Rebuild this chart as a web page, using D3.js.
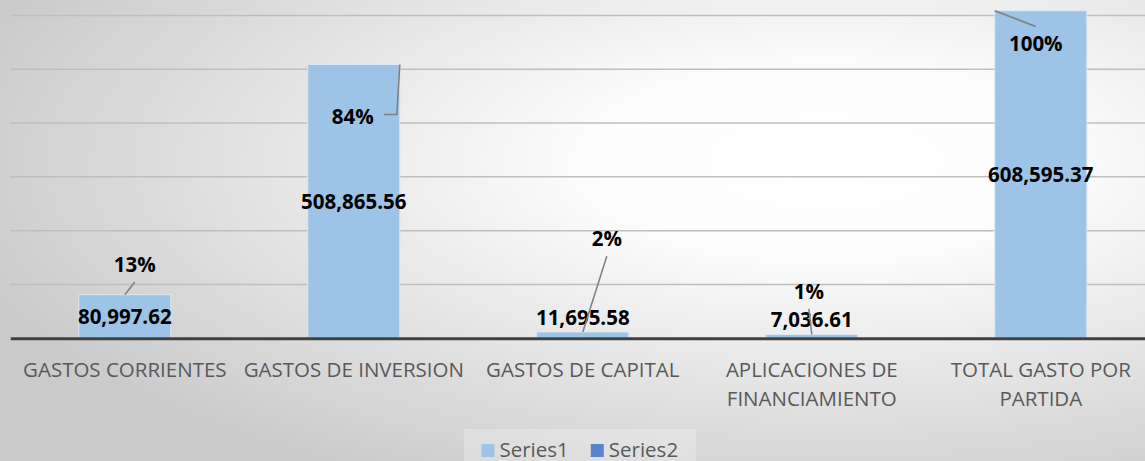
<!DOCTYPE html>
<html>
<head>
<meta charset="utf-8">
<script src="https://cdn.jsdelivr.net/npm/d3@7"></script>
<style>
  body { margin: 0; }
  text { font-family: "Open Sans", sans-serif; }
</style>
</head>
<body>
<div id="canvas"></div>
<script>
"use strict";

/* Data */
let categories = ["GASTOS CORRIENTES", "GASTOS DE INVERSION", "GASTOS DE CAPITAL",
  "APLICACIONES DE FINANCIAMIENTO", "TOTAL GASTO POR PARTIDA"];
let categoryLines = [
  ["GASTOS CORRIENTES"],
  ["GASTOS DE INVERSION"],
  ["GASTOS DE CAPITAL"],
  ["APLICACIONES DE", "FINANCIAMIENTO"],
  ["TOTAL GASTO POR", "PARTIDA"]
];
let series1 = [80997.62, 508865.56, 11695.58, 7036.61, 608595.37];
let series2 = [0.13, 0.84, 0.02, 0.01, 1.00];
let seriesNames = ["Series1", "Series2"];
let yTicks = [0, 100000, 200000, 300000, 400000, 500000, 600000];

/* Layout of the moved percentage labels (offset from leader anchor) */
let pctLayout = [
  { side: 0, dx: 10, dy: -30, elbow: false },
  { side: 1, dx: -47, dy: 52, elbow: true },
  { side: 0, dx: 24, dy: -93, elbow: false },
  { side: 0, dx: -3, dy: -43, elbow: false },
  { side: -1, dx: 41, dy: 33, elbow: false }
];

/* Drawing config */
let svgWidth = 1145;
let svgHeight = 461;
let plotLeft = 10.3;
let plotRight = 1155.3;
let plotTop = 15.4;
let plotBottom = 338.3;
let fontSize = 20.5;
let capHalf = fontSize * 0.714 / 2;

let colors = ["#9dc3e6", "#5b82cf"];

let svg = d3.select("#canvas")
  .append("svg")
  .attr("width", svgWidth)
  .attr("height", svgHeight);

/* Background gradient */
let defs = svg.append("defs");
let grad = defs.append("radialGradient")
  .attr("id", "bg")
  .attr("cx", 0.72)
  .attr("cy", 0.35)
  .attr("r", 0.78);
grad.append("stop").attr("offset", 0).attr("stop-color", "#ffffff");
grad.append("stop").attr("offset", 0.25).attr("stop-color", "#fdfdfd");
grad.append("stop").attr("offset", 1).attr("stop-color", "#cbcbcb");

svg.append("rect")
  .attr("width", svgWidth)
  .attr("height", svgHeight)
  .attr("fill", "url(#bg)");

/* Scales */
let xScale = d3.scaleBand()
  .domain(categories)
  .range([plotLeft, plotRight])
  .paddingInner(0.598)
  .paddingOuter(0.299);

let yScale = d3.scaleLinear()
  .domain([0, 600000])
  .range([plotBottom, plotTop]);

/* Gridlines */
svg.append("g")
  .selectAll("line")
  .data(yTicks.slice(1))
  .enter()
  .append("line")
  .attr("x1", plotLeft)
  .attr("x2", plotRight)
  .attr("y1", d => yScale(d))
  .attr("y2", d => yScale(d))
  .attr("stroke", "#bfbfbf")
  .attr("stroke-width", 1.5);

/* Bars */
let bw = xScale.bandwidth();

svg.append("g")
  .selectAll("rect")
  .data(series1)
  .enter()
  .append("rect")
  .attr("x", (d, i) => xScale(categories[i]))
  .attr("y", d => yScale(d))
  .attr("width", bw)
  .attr("height", d => plotBottom - yScale(d))
  .attr("fill", colors[0])
  .attr("stroke", "#dbe7f4")
  .attr("stroke-width", 1);

svg.append("g")
  .selectAll("rect")
  .data(series2)
  .enter()
  .append("rect")
  .attr("x", (d, i) => xScale(categories[i]))
  .attr("y", d => yScale(d))
  .attr("width", bw)
  .attr("height", d => plotBottom - yScale(d))
  .attr("fill", colors[1]);

/* X axis */
let xAxis = d3.axisBottom(xScale).tickSize(0).tickPadding(0);
let xg = svg.append("g")
  .attr("transform", "translate(0," + plotBottom + ")")
  .call(xAxis);
xg.select(".domain")
  .attr("stroke", "#404040")
  .attr("stroke-width", 3);
xg.selectAll(".tick text").remove();
xg.selectAll(".tick")
  .append("text")
  .attr("fill", "#595959")
  .attr("font-size", fontSize + "px")
  .attr("text-anchor", "middle")
  .selectAll("tspan")
  .data((d, i) => categoryLines[i])
  .enter()
  .append("tspan")
  .attr("x", 0)
  .attr("y", (d, j) => 38.5 + j * 29.5)
  .text(d => d);

/* Value labels of Series1: centred in the bar, above it when it does not fit */
let fmtValue = d3.format(",.2f");
svg.append("g")
  .selectAll("text")
  .data(series1)
  .enter()
  .append("text")
  .attr("x", (d, i) => xScale(categories[i]) + bw / 2)
  .attr("y", d => {
    let top = yScale(d);
    let cy = (plotBottom - top) >= 30 ? (top + plotBottom) / 2 : top - 14.5;
    return cy + capHalf;
  })
  .attr("text-anchor", "middle")
  .attr("font-size", fontSize + "px")
  .attr("font-weight", "bold")
  .attr("fill", "#000")
  .text(d => fmtValue(d));

/* Percentage labels (Series2) with leader lines */
let fmtPct = d3.format(".0%");
let pctGroup = svg.append("g");
series2.forEach((v, i) => {
  let lay = pctLayout[i];
  let ax = xScale(categories[i]) + bw / 2 + lay.side * bw / 2;
  let ay = yScale(series1[i]);
  let lx = ax + lay.dx;
  let ly = ay + lay.dy;

  let label = pctGroup.append("text")
    .attr("x", lx)
    .attr("y", ly + capHalf)
    .attr("text-anchor", "middle")
    .attr("font-size", fontSize + "px")
    .attr("font-weight", "bold")
    .attr("fill", "#000")
    .text(fmtPct(v));
  let halfW = label.node().getComputedTextLength() / 2;

  let pts;
  if (lay.elbow) {
    let dir = ax > lx ? 1 : -1;
    let ex = lx + dir * (halfW + 10);
    pts = [[ex, ly - 2], [ex + dir * 13, ly - 2], [ax, ay]];
  } else {
    let dir = ay > ly ? 1 : -1;
    pts = [[lx, ly + dir * (capHalf + 10)], [ax, ay]];
  }
  pctGroup.append("path")
    .attr("d", d3.line()(pts))
    .attr("fill", "none")
    .attr("stroke", "#7f7f7f")
    .attr("stroke-width", 1.5);
});

/* Legend */
let legend = svg.append("g");
let legendCenter = (plotLeft + plotRight) / 2 - 3;
legend.append("rect")
  .attr("x", legendCenter - 116)
  .attr("y", 429)
  .attr("width", 232)
  .attr("height", 40)
  .attr("fill", "#ffffff")
  .attr("opacity", 0.25);

let legendItems = legend.selectAll("g")
  .data(seriesNames)
  .enter()
  .append("g");
legendItems.append("rect")
  .attr("y", 444)
  .attr("width", 13)
  .attr("height", 13)
  .attr("fill", (d, i) => colors[i]);
legendItems.append("text")
  .attr("x", 18)
  .attr("y", 457)
  .attr("font-size", fontSize + "px")
  .attr("fill", "#595959")
  .text(d => d);

let widths = [];
legendItems.each(function() {
  widths.push(18 + d3.select(this).select("text").node().getComputedTextLength());
});
let gap = 22;
let total = d3.sum(widths) + gap * (widths.length - 1);
let xPos = legendCenter - total / 2;
legendItems.attr("transform", (d, i) => {
  let t = "translate(" + xPos + ",0)";
  xPos += widths[i] + gap;
  return t;
});
</script>
</body>
</html>
